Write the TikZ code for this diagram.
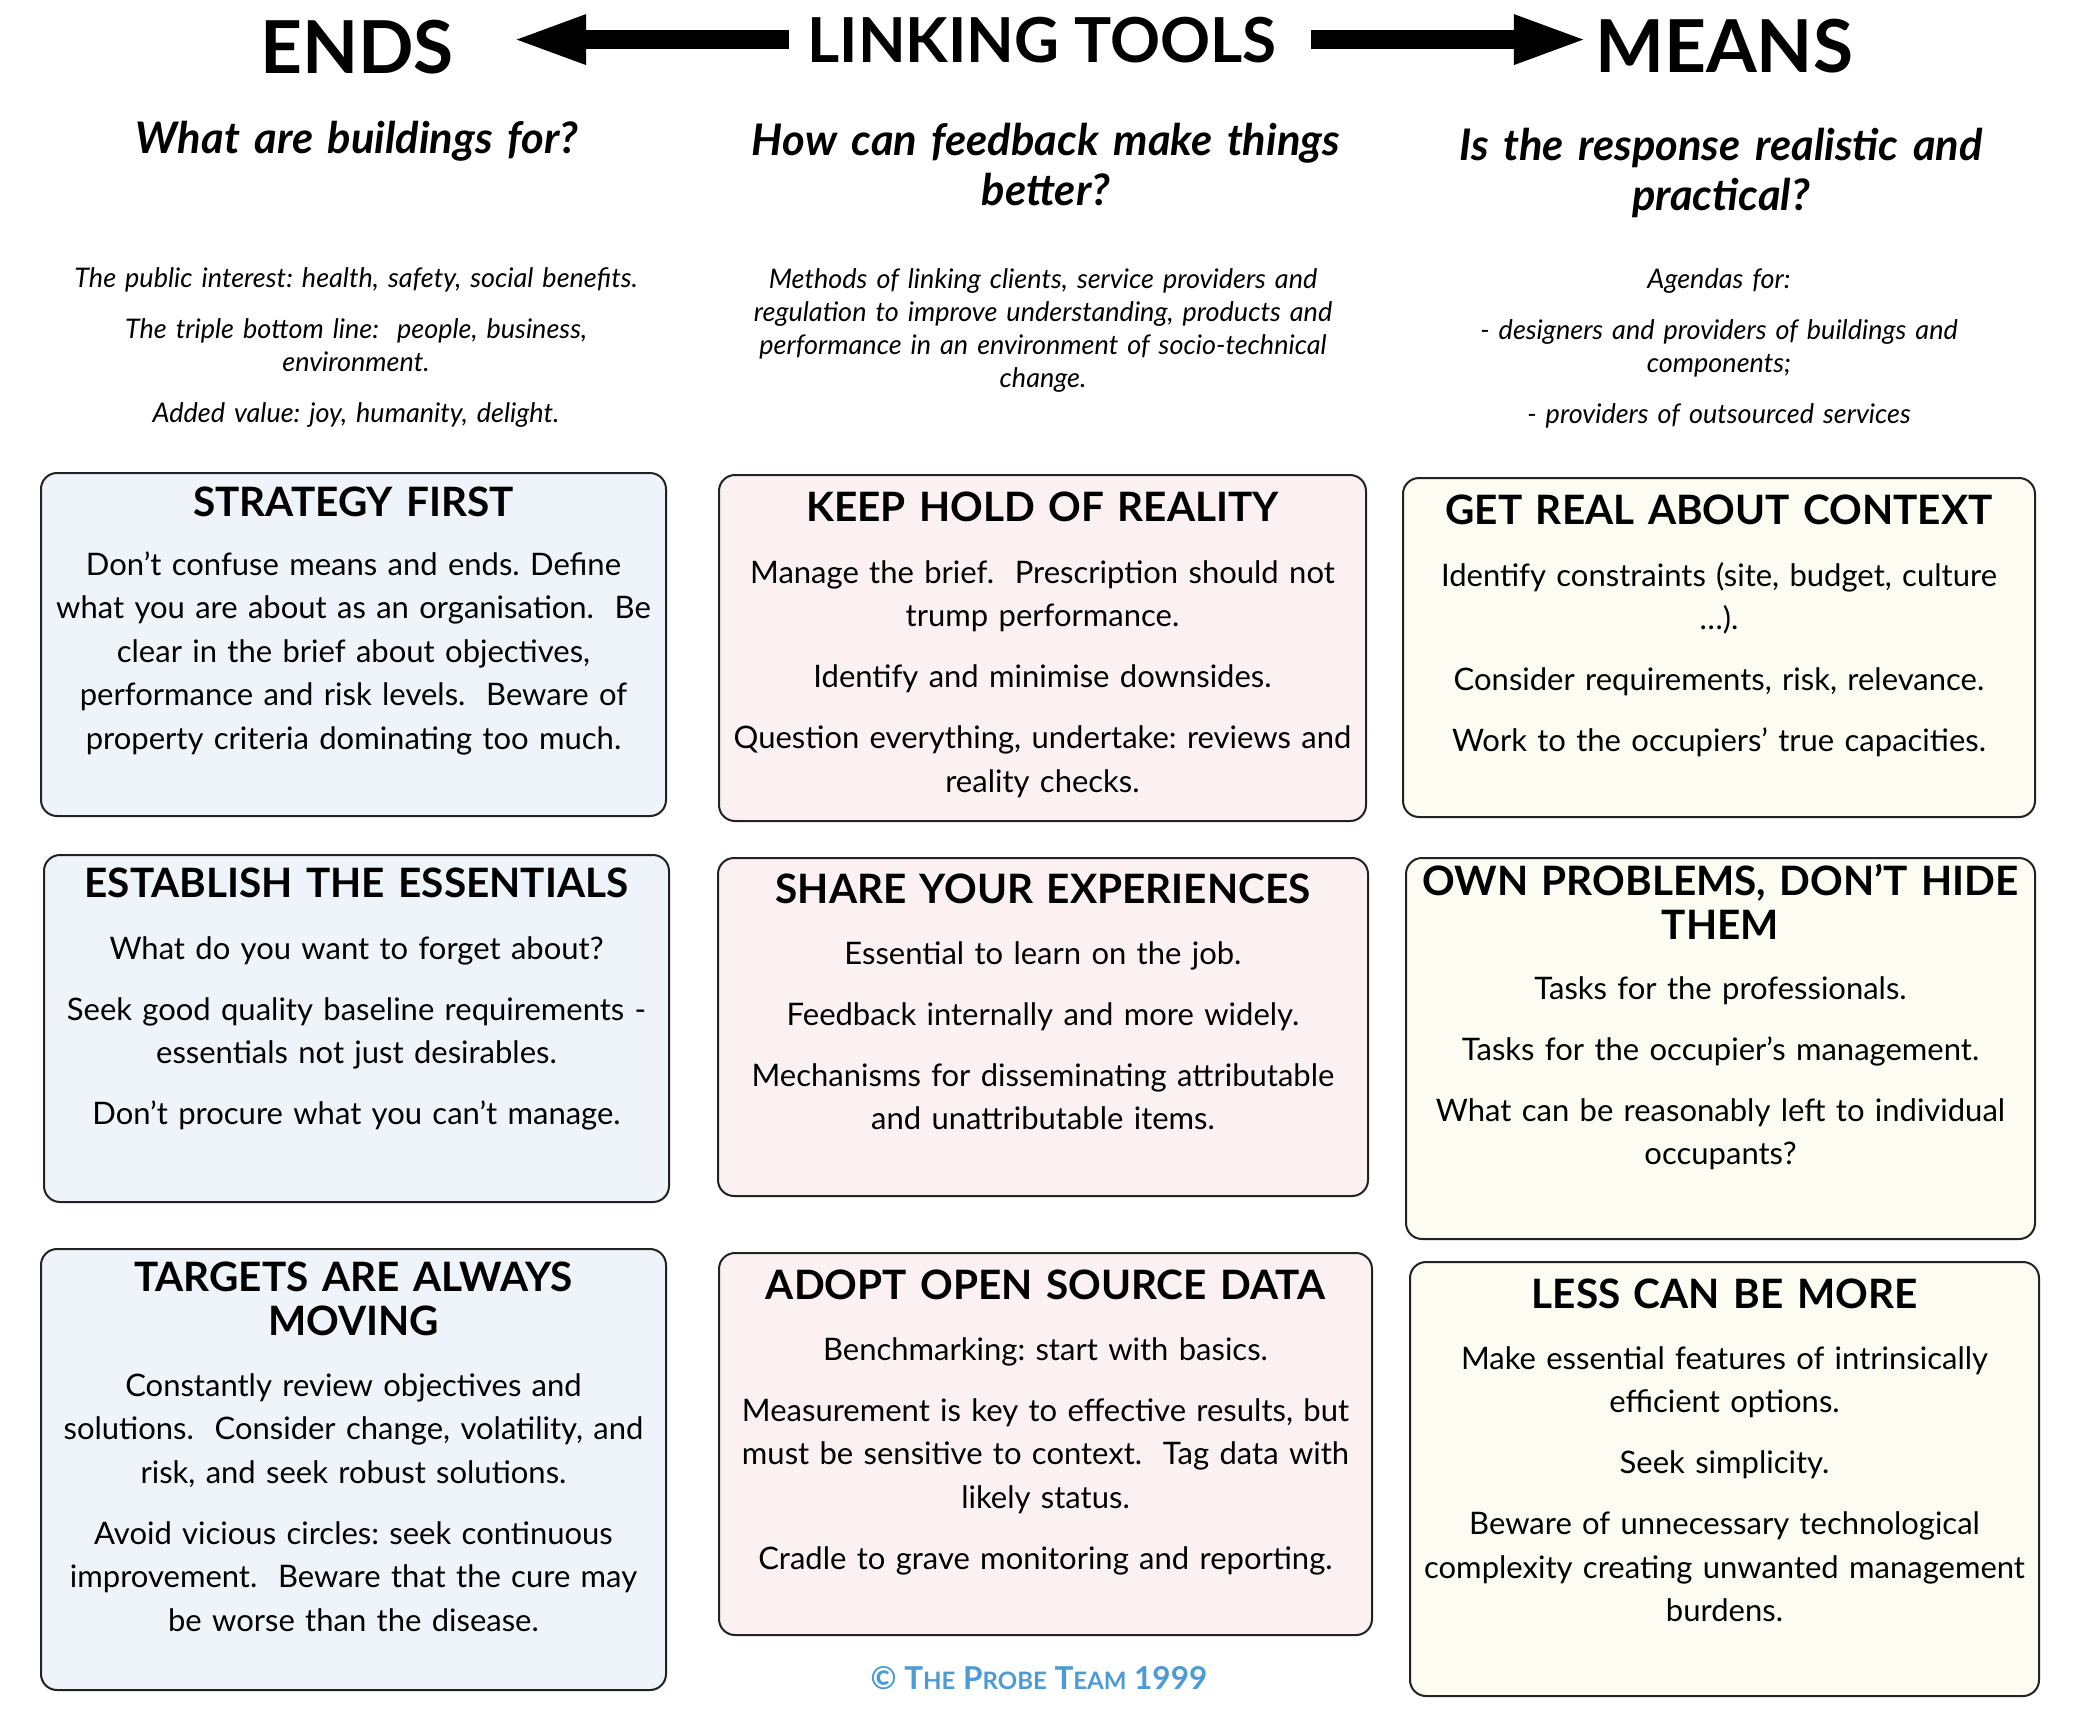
\documentclass[tikz,border=0pt]{standalone}
\usepackage{fontspec}
\setmainfont{Lato}
\usetikzlibrary{arrows.meta}
\definecolor{fillA}{HTML}{EFF3FA}
\definecolor{fillB}{HTML}{FBF1F2}
\definecolor{fillC}{HTML}{FDFCF2}
\definecolor{probeblue}{HTML}{4C9BD5}
\definecolor{edge}{HTML}{222222}
\frenchspacing
\begin{document}
\begin{tikzpicture}[x=1pt,y=-1pt,
  card/.style={draw=edge, line width=2pt, rounded corners=16pt, inner sep=0pt},
  cardA/.style={card, fill=fillA},
  cardB/.style={card, fill=fillB},
  cardC/.style={card, fill=fillC},
  cardhead/.style={anchor=base, text width=700pt, align=center, inner sep=0pt,
    font=\bfseries\fontsize{40.5}{44}\selectfont},
  cardbody/.style={anchor=base, text width=700pt, align=center, inner sep=0pt,
    font=\fontsize{31}{43.5}\selectfont},
  bigtitle/.style={anchor=base, inner sep=0pt, font=\bfseries\fontsize{73}{75}\selectfont},
  question/.style={anchor=base, text width=700pt, align=center, inner sep=0pt,
    font=\bfseries\itshape\fontsize{43.5}{50}\selectfont},
  intro/.style={anchor=base, text width=700pt, align=center, inner sep=0pt,
    font=\itshape\fontsize{27}{33}\selectfont},
  bigarrow/.style={line width=19pt, -{Triangle[length=76pt,width=44pt]}}
]
\useasboundingbox[fill=white] (0,0) rectangle (2076,1716);

% Titles
\node[bigtitle] (ends) at (357,73) {ENDS};
\node[bigtitle, font=\bfseries\fontsize{62}{64}\selectfont] (link) at (1042,62) {LINKING TOOLS};
\node[bigtitle] (means) at (1724,72) {MEANS};
\draw[bigarrow] ([xshift=-18pt]link.west) -- ([xshift=56pt]ends.east |- link.west);
\draw[bigarrow] ([xshift=34pt]link.east) -- ([xshift=-5pt]means.west |- link.east);

% Questions
\node[question] (q1) at (357,153) {What are buildings for?};
\node[question] (q2) at (1046,155) {How can feedback make things\\ better?};
\node[question] (q3) at (1721,160) {Is the response realistic and\\ practical?};

% Intro texts
\node[intro] (i1) at (356,287) {The public interest: health, safety, social benefits.\\[18pt]
The triple bottom line:~~people, business,\\ environment.\\[18pt]
Added value: joy, humanity, delight.};
\node[intro] (i2) at (1043,288) {Methods of linking clients, service providers and\\
regulation to improve understanding, products and\\
performance in an environment of socio-technical\\ change.};
\node[intro] (i3) at (1719,288) {Agendas for:\\[18pt]
- designers and providers of buildings and\\ components;\\[18pt]
- providers of outsourced services};

% Column A
\node[cardA, minimum width=625pt, minimum height=343pt] (a1) at (353.5,644.5) {};
\node[cardhead] (a1h) at (353.5,516) {STRATEGY FIRST};
\node[cardbody] (a1b) at (353.5,575) {Don’t confuse means and ends. Define\\
what you are about as an organisation.~~Be\\
clear in the brief about objectives,\\
performance and risk levels.~~Beware of\\
property criteria dominating too much.};

\node[cardA, minimum width=625pt, minimum height=347pt] (a2) at (356.5,1028.5) {};
\node[cardhead] (a2h) at (356.5,897) {ESTABLISH THE ESSENTIALS};
\node[cardbody] (a2b) at (356.5,959) {What do you want to forget about?\\[17.5pt]
Seek good quality baseline requirements -\\
essentials not just desirables.\\[17.5pt]
Don’t procure what you can’t manage.};

\node[cardA, minimum width=625pt, minimum height=441pt] (a3) at (353.5,1469.5) {};
\node[cardhead] (a3h) at (353.5,1291) {TARGETS ARE ALWAYS\\ MOVING};
\node[cardbody] (a3b) at (353.5,1396) {Constantly review objectives and\\
solutions.~~Consider change, volatility, and\\
risk, and seek robust solutions.\\[17.5pt]
Avoid vicious circles: seek continuous\\
improvement.~~Beware that the cure may\\
be worse than the disease.};

% Column B
\node[cardB, minimum width=647pt, minimum height=346pt] (b1) at (1042.5,648) {};
\node[cardhead] (b1h) at (1042.5,521) {KEEP HOLD OF REALITY};
\node[cardbody] (b1b) at (1042.5,583) {Manage the brief.~~Prescription should not\\
trump performance.\\[17.5pt]
Identify and minimise downsides.\\[17.5pt]
Question everything, undertake: reviews and\\
reality checks.};

\node[cardB, minimum width=650pt, minimum height=338pt] (b2) at (1043,1027) {};
\node[cardhead] (b2h) at (1043,903) {SHARE YOUR EXPERIENCES};
\node[cardbody] (b2b) at (1043,964) {Essential to learn on the job.\\[17.5pt]
Feedback internally and more widely.\\[17.5pt]
Mechanisms for disseminating attributable\\
and unattributable items.};

\node[cardB, minimum width=653pt, minimum height=382pt] (b3) at (1045.5,1444) {};
\node[cardhead] (b3h) at (1045.5,1299) {ADOPT OPEN SOURCE DATA};
\node[cardbody] (b3b) at (1045.5,1360) {Benchmarking: start with basics.\\[17.5pt]
Measurement is key to effective results, but\\
must be sensitive to context.~~Tag data with\\
likely status.\\[17.5pt]
Cradle to grave monitoring and reporting.};

% Column C
\node[cardC, minimum width=632pt, minimum height=339pt] (c1) at (1719,647.5) {};
\node[cardhead] (c1h) at (1719,524) {GET REAL ABOUT CONTEXT};
\node[cardbody] (c1b) at (1719,586) {Identify constraints (site, budget, culture\\
…).\\[17.5pt]
Consider requirements, risk, relevance.\\[17.5pt]
Work to the occupiers’ true capacities.};

\node[cardC, minimum width=629pt, minimum height=381pt] (c2) at (1720.5,1048.5) {};
\node[cardhead] (c2h) at (1720.5,895) {OWN PROBLEMS, DON’T HIDE\\ THEM};
\node[cardbody] (c2b) at (1720.5,999) {Tasks for the professionals.\\[17.5pt]
Tasks for the occupier’s management.\\[17.5pt]
What can be reasonably left to individual\\
occupants?};

\node[cardC, minimum width=629pt, minimum height=434pt] (c3) at (1724.5,1479) {};
\node[cardhead] (c3h) at (1724.5,1308) {LESS CAN BE MORE};
\node[cardbody] (c3b) at (1724.5,1369) {Make essential features of intrinsically\\
efficient options.\\[17.5pt]
Seek simplicity.\\[17.5pt]
Beware of unnecessary technological\\
complexity creating unwanted management\\
burdens.};

% Footer
\node[anchor=base, inner sep=0pt, text=probeblue, font=\bfseries\fontsize{31.5}{32}\selectfont] (foot) at (1039,1689)
{©\ T{\fontsize{24}{32}\selectfont HE}\ P{\fontsize{24}{32}\selectfont ROBE}\ T{\fontsize{24}{32}\selectfont EAM}\ 1999};
\end{tikzpicture}
\end{document}
